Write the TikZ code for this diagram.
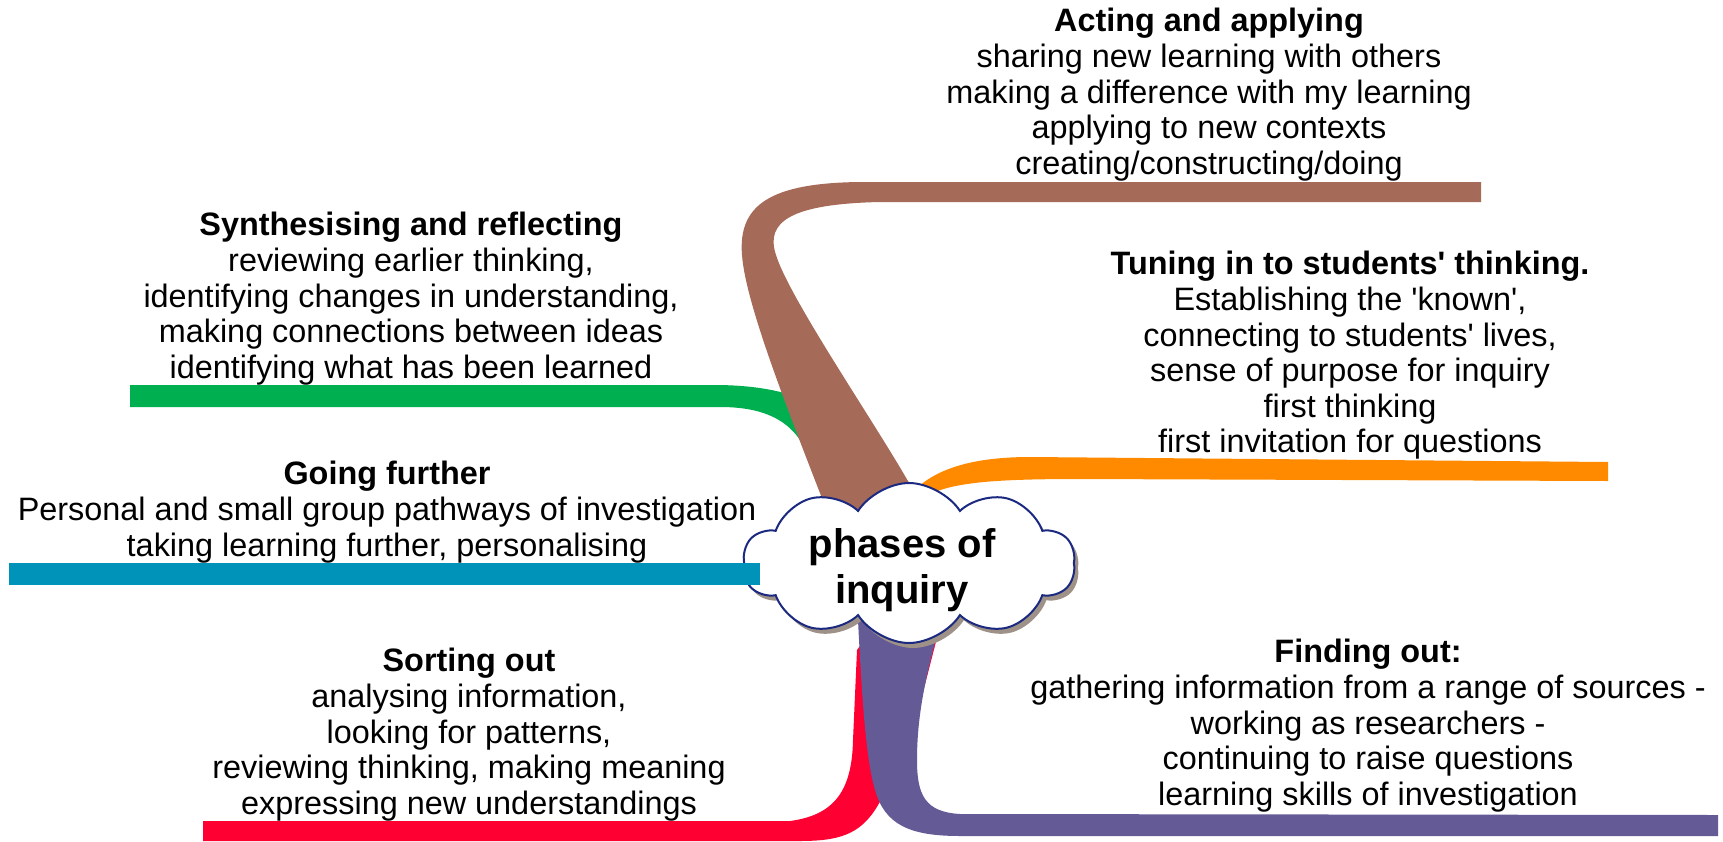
\documentclass[tikz,border=0pt]{standalone}
\usepackage{fontspec}
\setmainfont{Liberation Sans}[Ligatures=TeXOff]
\usetikzlibrary{shapes.symbols,shadows}
\definecolor{cbrown}{HTML}{A66A58}
\definecolor{cgreen}{HTML}{00B050}
\definecolor{corange}{HTML}{FF8A00}
\definecolor{cblue}{HTML}{0093BA}
\definecolor{cred}{HTML}{FF0033}
\definecolor{cpurple}{HTML}{635A96}
\definecolor{cnavy}{HTML}{1B2A80}
\definecolor{cshadow}{HTML}{9E9288}
\begin{document}
\begin{tikzpicture}[x=0.5pt,y=-0.5pt,
  txt/.style={align=center,anchor=north,inner sep=0pt,font=\fontsize{16.2}{17.8}\selectfont}]
\useasboundingbox (0,0) rectangle (1723,841);

% green branch (behind brown)
\fill[cgreen] (130,385) -- (720,385) .. controls (770,386) and (805,395) .. (845,420)
  -- (925,498) -- (870,545) -- (800,440) .. controls (785,418) and (760,407) .. (720,407)
  -- (130,407) -- cycle;
% brown branch
\fill[cbrown] (1481,182) -- (860,182) .. controls (770,183) and (738,205) .. (742,255)
  .. controls (746,310) and (800,440) .. (840,545) -- (930,530) -- (913,490)
  .. controls (880,430) and (790,300) .. (776,255)
  .. controls (765,222) and (790,204) .. (880,202) -- (1481,202) -- cycle;
% orange branch
\fill[corange] (1608,462) -- (1030,457) .. controls (975,457) and (935,468) .. (913,492)
  -- (905,540) -- (940,530) -- (935,492) .. controls (960,482) and (1000,479) .. (1080,479)
  -- (1608,481) -- cycle;
% red branch
\fill[cred] (203,821) -- (790,821) .. controls (835,815) and (852,790) .. (853,740)
  -- (857,650) -- (900,590) -- (939,630) -- (921,700) -- (890,780)
  .. controls (870,830) and (850,841) .. (800,841) -- (203,841) -- cycle;
% purple branch
\fill[cpurple] (1718,815) -- (960,814) .. controls (925,812) and (917,795) .. (917,760)
  .. controls (917,710) and (928,670) .. (938,630) -- (900,580) -- (858,620)
  .. controls (862,700) and (866,760) .. (875,790) .. controls (885,825) and (910,836) .. (960,836)
  -- (1718,836) -- cycle;

% central cloud
\node[cloud, cloud puffs=10, cloud puff arc=115, cloud ignores aspect,
  draw=cnavy, line width=1pt, fill=white, inner sep=0pt,
  minimum width=166pt, minimum height=80pt,
  drop shadow={shadow xshift=2pt, shadow yshift=-2.5pt, fill=cshadow, opacity=1}]
  (cloud) at (909,563) {};
\node[align=center, inner sep=0pt, font=\fontsize{20}{23}\selectfont\bfseries]
  (center) at (902,570) {phases of\\inquiry};

% blue branch (over cloud edge)
\fill[cblue] (9,563) rectangle (760,585);

% text blocks
\node[txt] (acting) at (1209,8) {\textbf{Acting and applying}\\sharing new learning with others\\making a difference with my learning\\applying to new contexts\\creating/constructing/doing};
\node[txt] (tuning) at (1350,251) {\textbf{Tuning in to students' thinking.}\\Establishing the 'known',\\connecting to students' lives,\\sense of purpose for inquiry\\first thinking\\first invitation for questions};
\node[txt] (synth) at (411,212) {\textbf{Synthesising and reflecting}\\reviewing earlier thinking,\\identifying changes in understanding,\\making connections between ideas\\identifying what has been learned};
\node[txt] (going) at (387,461) {\textbf{Going further}\\Personal and small group pathways of investigation\\taking learning further, personalising};
\node[txt] (sorting) at (469,648) {\textbf{Sorting out}\\analysing information,\\looking for patterns,\\reviewing thinking, making meaning\\expressing new understandings};
\node[txt] (finding) at (1368,639) {\textbf{Finding out:}\\gathering information from a range of sources -\\working as researchers -\\continuing to raise questions\\learning skills of investigation};
\end{tikzpicture}
\end{document}
